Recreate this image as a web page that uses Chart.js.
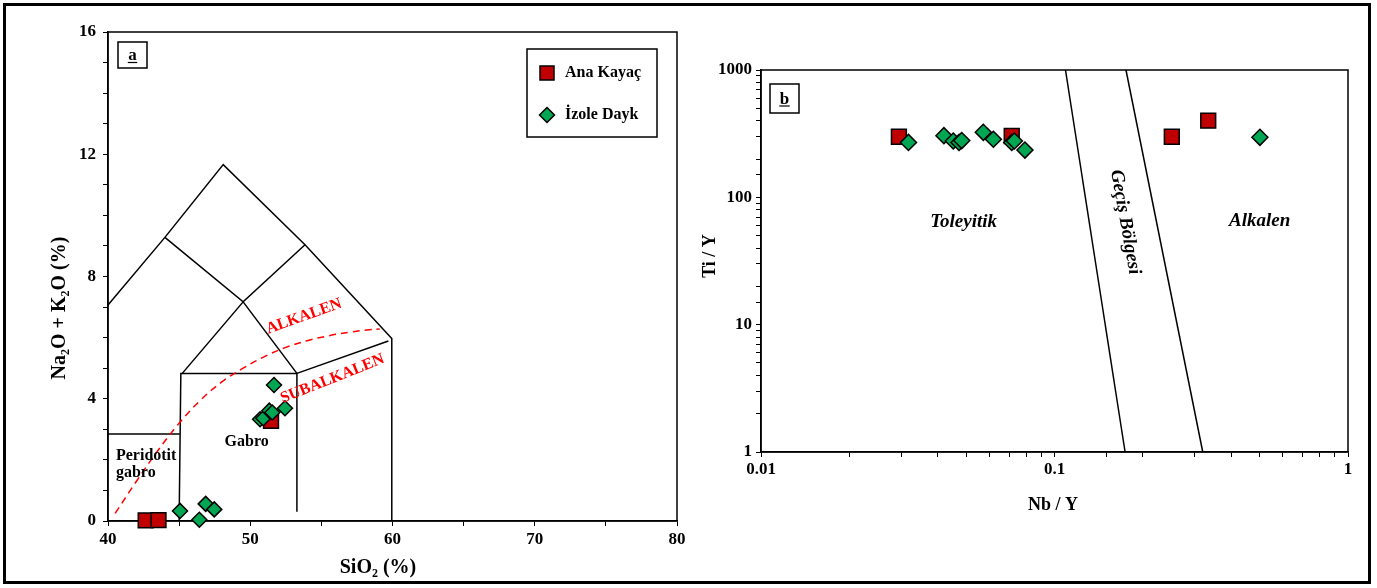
<!DOCTYPE html>
<html>
<head>
<meta charset="utf-8">
<script src="https://cdn.jsdelivr.net/npm/chart.js@4/dist/chart.umd.min.js"></script>
<style>
  html, body { margin: 0; padding: 0; background: #fff; }
  #page { position: relative; width: 1377px; height: 588px; overflow: hidden; }
  #wrapA { position: absolute; left: 0; top: 0; width: 700px; height: 588px; }
  #wrapB { position: absolute; left: 700px; top: 0; width: 677px; height: 588px; }
  #frame { position: absolute; left: 3px; top: 3px; width: 1368px; height: 581px;
           border: 3px solid #000; box-sizing: border-box; pointer-events: none; }
</style>
</head>
<body>
<div id="page">
  <div id="wrapA"><canvas id="chartA" width="700" height="588"></canvas></div>
  <div id="wrapB"><canvas id="chartB" width="677" height="588"></canvas></div>
  <div id="frame"></div>
</div>
<script>
// ---- (a) Total alkali vs silica ----
const anaKayacSiO2    = [42.65, 43.55, 51.46];
const anaKayacAlkali  = [0.02, 0.03, 3.28];
const izoleDaykSiO2   = [45.06, 46.42, 46.87, 47.47, 51.67, 52.44, 50.69, 50.92, 51.34, 51.55];
const izoleDaykAlkali = [0.33, 0.04, 0.56, 0.38, 4.45, 3.69, 3.33, 3.36, 3.61, 3.55];

const siO2Ticks   = [40, 50, 60, 70, 80];
const alkaliTicks = [0, 4, 8, 12, 16];

// Field boundaries (SiO2, Na2O+K2O)
const fieldOuter     = [[40, 7.07], [44.0, 9.28], [48.1, 11.66], [53.85, 9.04], [59.95, 5.97], [59.95, 0]];
const fieldInnerTop  = [[44.0, 9.28], [49.5, 7.17], [53.85, 9.04]];
const fieldRoof      = [[45.22, 4.83], [49.5, 7.17], [53.28, 4.83]];
const gabroBox       = [[45.0, 0], [45.12, 4.83], [53.28, 4.83], [53.28, 0.3]];
const subalkEdge     = [[53.28, 4.83], [59.71, 5.89]];
const peridotitTop   = [[40, 2.85], [45.05, 2.85]];
const alkalineDivide = [[40.5, 0.25], [42, 1.3], [43.5, 2.3], [45, 3.2], [46.5, 3.95], [48, 4.55],
                        [49.5, 5.0], [51, 5.38], [52.5, 5.68], [54, 5.9], [55.5, 6.06], [57, 6.18],
                        [58.2, 6.25], [59.1, 6.28]];

// ---- (b) Nb/Y vs Ti/Y ----
const anaKayacNbY   = [0.0295, 0.0715, 0.251, 0.334];
const anaKayacTiY   = [299, 303, 299, 400];
const izoleDaykNbY  = [0.0318, 0.0420, 0.0452, 0.0473, 0.0483, 0.0572, 0.0619, 0.0715, 0.0730, 0.0793, 0.501];
const izoleDaykTiY  = [270, 305, 277, 270, 279, 324, 286, 270, 277, 235, 296];

const nbYTicks = [0.01, 0.1, 1];
const tiYTicks = [1, 10, 100, 1000];

const transitionLeft  = [[0.109, 1000], [0.174, 1]];
const transitionRight = [[0.1752, 1000], [0.32, 1]];

// ---- styling ----
const SERIF = '"Liberation Serif", "Times New Roman", serif';
const RED = '#c00000';
const GREEN = '#00a651';

const toXY = (xs, ys) => xs.map((x, i) => ({ x, y: ys[i] }));
const pairs = arr => arr.map(([x, y]) => ({ x, y }));

function boundary(data, extra) {
  return Object.assign({
    data: pairs(data), showLine: true, pointRadius: 0, borderColor: '#000',
    borderWidth: 1.5, fill: false, order: 5, clip: false
  }, extra || {});
}

function markers(xs, ys, style, radius, color, order) {
  return {
    data: toXY(xs, ys), showLine: false, pointStyle: style, pointRadius: radius,
    pointBackgroundColor: color, pointBorderColor: '#000', pointBorderWidth: 1.5,
    order, clip: false
  };
}

function isIn(list, v) { return list.some(t => Math.abs(t - v) / t < 1e-6 || t === v); }

function drawRich(ctx, runs, x, y, angle, size) {
  ctx.save();
  ctx.translate(x, y);
  ctx.rotate(angle);
  const sub = Math.round(size * 0.62);
  const fontOf = r => `bold ${r.sub ? sub : size}px ${SERIF}`;
  let total = 0;
  runs.forEach(r => { ctx.font = fontOf(r); r.w = ctx.measureText(r.t).width; total += r.w; });
  let cx = -total / 2;
  ctx.fillStyle = '#000';
  ctx.textAlign = 'left';
  ctx.textBaseline = 'alphabetic';
  runs.forEach(r => {
    ctx.font = fontOf(r);
    ctx.fillText(r.t, cx, size * 0.35 + (r.sub ? size * 0.22 : 0));
    cx += r.w;
  });
  ctx.restore();
}

function drawText(ctx, text, x, y, opts) {
  ctx.save();
  ctx.translate(x, y);
  ctx.rotate(opts.angle || 0);
  ctx.font = `${opts.italic ? 'italic ' : ''}bold ${opts.size}px ${SERIF}`;
  ctx.fillStyle = opts.color || '#000';
  ctx.textAlign = opts.align || 'center';
  ctx.textBaseline = 'middle';
  ctx.fillText(text, 0, 0);
  ctx.restore();
}

function panelTag(ctx, letter, x, y, w, h) {
  ctx.save();
  ctx.fillStyle = '#fff';
  ctx.fillRect(x, y, w, h);
  ctx.strokeStyle = '#000';
  ctx.lineWidth = 1.5;
  ctx.strokeRect(x, y, w, h);
  ctx.font = `bold 17px ${SERIF}`;
  ctx.fillStyle = '#000';
  ctx.textAlign = 'center';
  ctx.textBaseline = 'alphabetic';
  const cx = x + w / 2, base = y + h / 2 + 5;
  ctx.fillText(letter, cx, base);
  const lw = ctx.measureText(letter).width;
  ctx.lineWidth = 1.2;
  ctx.beginPath();
  ctx.moveTo(cx - lw / 2 - 0.5, base + 2.5);
  ctx.lineTo(cx + lw / 2 + 0.5, base + 2.5);
  ctx.stroke();
  ctx.restore();
}

function plotBox(chart) {
  const { ctx, chartArea: a } = chart;
  ctx.save();
  ctx.strokeStyle = '#000';
  ctx.lineWidth = 1.5;
  ctx.strokeRect(a.left, a.top, a.right - a.left, a.bottom - a.top);
  ctx.restore();
}

function scaleOpts(extra) {
  return Object.assign({
    border: { display: true, color: '#000', width: 1.5 },
    grid: { drawOnChartArea: false, drawTicks: true, tickLength: 5, color: '#000', lineWidth: 1 },
    title: { display: false }
  }, extra);
}

const tickFont = { family: SERIF, size: 17, weight: 'bold' };

// ---------- Chart (a) ----------
const labelsA = [
  { text: 'ALKALEN',    x: 53.78, y: 6.69, angle: -19.6, color: '#ff0000', size: 16 },
  { text: 'SUBALKALEN', x: 55.78, y: 4.65, angle: -21.7, color: '#ff0000', size: 16 },
  { text: 'Gabro',      x: 49.75, y: 2.6,  angle: 0, size: 16 },
  { text: 'Peridotit',  x: 40.56, y: 2.13, angle: 0, size: 16, align: 'left' },
  { text: 'gabro',      x: 40.56, y: 1.56, angle: 0, size: 16, align: 'left' }
];

const decorA = {
  id: 'decorA',
  beforeDatasetsDraw(chart) { plotBox(chart); },
  afterDatasetsDraw(chart) {
    const { ctx, scales: { x, y } } = chart;
    labelsA.forEach(l => drawText(ctx, l.text, x.getPixelForValue(l.x), y.getPixelForValue(l.y),
      { size: l.size, color: l.color, align: l.align, angle: l.angle * Math.PI / 180 }));

    panelTag(ctx, 'a', 118, 42, 29, 26);

    // legend
    ctx.save();
    ctx.fillStyle = '#fff';
    ctx.fillRect(527, 49, 130, 88);
    ctx.strokeStyle = '#000';
    ctx.lineWidth = 1.5;
    ctx.strokeRect(527, 49, 130, 88);
    ctx.lineWidth = 1.5;
    ctx.fillStyle = RED;
    ctx.fillRect(540, 66, 14, 14);
    ctx.strokeRect(540, 66, 14, 14);
    ctx.fillStyle = GREEN;
    ctx.beginPath();
    ctx.moveTo(547, 107.5); ctx.lineTo(554.5, 115); ctx.lineTo(547, 122.5); ctx.lineTo(539.5, 115);
    ctx.closePath(); ctx.fill(); ctx.stroke();
    ctx.fillStyle = '#000';
    ctx.font = `bold 16px ${SERIF}`;
    ctx.textAlign = 'left';
    ctx.textBaseline = 'middle';
    ctx.fillText('Ana Kayaç', 565, 73);
    ctx.fillText('İzole Dayk', 565, 115);
    ctx.restore();

    // axis titles
    drawRich(ctx, [{ t: 'Na' }, { t: '2', sub: true }, { t: 'O + K' }, { t: '2', sub: true }, { t: 'O (%)' }],
      58, 308, -Math.PI / 2, 20);
    drawRich(ctx, [{ t: 'SiO' }, { t: '2', sub: true }, { t: ' (%)' }], 378, 566, 0, 20);
  }
};

new Chart(document.getElementById('chartA'), {
  type: 'scatter',
  data: {
    datasets: [
      boundary(fieldOuter),
      boundary(fieldInnerTop),
      boundary(fieldRoof),
      boundary(gabroBox),
      boundary(subalkEdge),
      boundary(peridotitTop),
      boundary(alkalineDivide, { borderColor: '#ff0000', borderDash: [7, 5], tension: 0.4, order: 4 }),
      Object.assign(markers(anaKayacSiO2, anaKayacAlkali, 'rect', 10.5, RED, 2), { label: 'Ana Kayaç' }),
      Object.assign(markers(izoleDaykSiO2, izoleDaykAlkali, 'rectRot', 7.5, GREEN, 1), { label: 'İzole Dayk' })
    ]
  },
  options: {
    responsive: false,
    animation: false,
    events: [],
    layout: { padding: { left: 0, top: 32, right: 23, bottom: 0 } },
    plugins: { legend: { display: false }, tooltip: { enabled: false } },
    scales: {
      x: scaleOpts({
        type: 'linear', min: 40, max: 80,
        afterFit: s => { s.height = 67; },
        ticks: { stepSize: 5, autoSkip: false, maxRotation: 0, color: '#000', font: tickFont, padding: 3,
                 callback: v => isIn(siO2Ticks, v) ? String(v) : '' }
      }),
      y: scaleOpts({
        type: 'linear', min: 0, max: 16,
        afterFit: s => { s.width = 108; },
        ticks: { stepSize: 1, autoSkip: false, color: '#000', font: tickFont, padding: 7,
                 callback: v => (v === 0 || isIn(alkaliTicks, v)) ? String(v) : '' }
      })
    }
  },
  plugins: [decorA]
});

// ---------- Chart (b) ----------
const labelsB = [
  { text: 'Toleyitik',     x: 0.049, y: 64, angle: 0 },
  { text: 'Alkalen',       x: 0.50,  y: 65, angle: 0 },
  { text: 'Geçiş Bölgesi', x: 0.174, y: 64, angle: 79.8 }
];

const decorB = {
  id: 'decorB',
  beforeDatasetsDraw(chart) { plotBox(chart); },
  afterDatasetsDraw(chart) {
    const { ctx, scales: { x, y } } = chart;
    labelsB.forEach(l => drawText(ctx, l.text, x.getPixelForValue(l.x), y.getPixelForValue(l.y),
      { size: 19, italic: true, angle: l.angle * Math.PI / 180 }));
    panelTag(ctx, 'b', 70, 84, 29, 29);
    drawRich(ctx, [{ t: 'Ti / Y' }], 9, 256, -Math.PI / 2, 18);
    drawRich(ctx, [{ t: 'Nb / Y' }], 353, 504, 0, 18);
  }
};

const fmtPow = v => {
  const p = Math.round(Math.log10(v));
  return p >= 0 ? String(Math.pow(10, p)) : Math.pow(10, p).toFixed(-p);
};

new Chart(document.getElementById('chartB'), {
  type: 'scatter',
  data: {
    datasets: [
      boundary(transitionLeft),
      boundary(transitionRight),
      Object.assign(markers(anaKayacNbY, anaKayacTiY, 'rect', 10.5, RED, 2), { label: 'Ana Kayaç' }),
      Object.assign(markers(izoleDaykNbY, izoleDaykTiY, 'rectRot', 8, GREEN, 1), { label: 'İzole Dayk' })
    ]
  },
  options: {
    responsive: false,
    animation: false,
    events: [],
    layout: { padding: { left: 0, top: 70, right: 29, bottom: 0 } },
    plugins: { legend: { display: false }, tooltip: { enabled: false } },
    scales: {
      x: scaleOpts({
        type: 'logarithmic', min: 0.01, max: 1,
        afterFit: s => { s.height = 136; },
        ticks: { autoSkip: false, maxRotation: 0, color: '#000', font: tickFont, padding: 2,
                 callback: v => isIn(nbYTicks, v) ? fmtPow(v) : '' }
      }),
      y: scaleOpts({
        type: 'logarithmic', min: 1, max: 1000,
        afterFit: s => { s.width = 61; },
        ticks: { autoSkip: false, color: '#000', font: tickFont, padding: 4,
                 callback: v => isIn(tiYTicks, v) ? fmtPow(v) : '' }
      })
    }
  },
  plugins: [decorB]
});
</script>
</body>
</html>
